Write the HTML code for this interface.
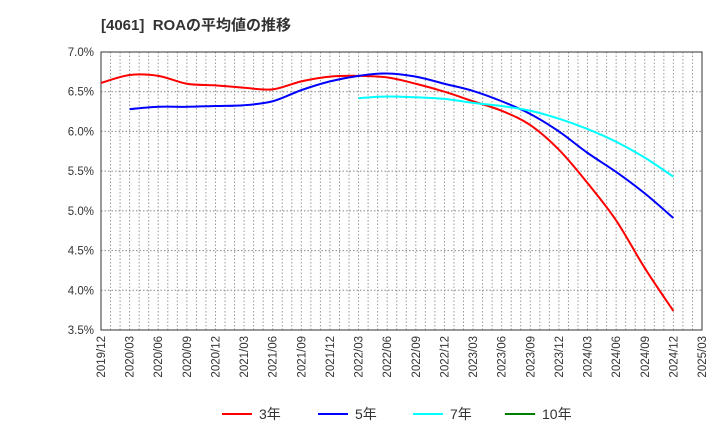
<!DOCTYPE html>
<html><head><meta charset="utf-8"><style>
body{margin:0;background:#fff;font-family:"Liberation Sans","Noto Sans CJK JP",sans-serif;}
svg text{font-family:"Liberation Sans","Noto Sans CJK JP",sans-serif;}
</style></head><body>
<svg id="chart" width="720" height="440" xmlns="http://www.w3.org/2000/svg">
<text x="101" y="30" font-size="15" font-weight="bold" fill="#333" xml:space="preserve">[4061]  ROAの平均値の推移</text>
<g id="grid"></g><g id="axes"></g><g id="series"></g><g id="legend"></g>
</svg>
<script>
const xLabels=["2019/12","2020/03","2020/06","2020/09","2020/12","2021/03","2021/06","2021/09","2021/12","2022/03","2022/06","2022/09","2022/12","2023/03","2023/06","2023/09","2023/12","2024/03","2024/06","2024/09","2024/12","2025/03"];
const yTicks=[3.5,4.0,4.5,5.0,5.5,6.0,6.5,7.0];
const s3=[6.61,6.71,6.70,6.60,6.58,6.55,6.53,6.63,6.69,6.70,6.68,6.60,6.50,6.38,6.26,6.08,5.77,5.35,4.88,4.28,3.74];
const s5=[null,6.28,6.31,6.31,6.32,6.33,6.38,6.52,6.63,6.70,6.73,6.69,6.60,6.51,6.38,6.22,6.00,5.73,5.49,5.22,4.91];
const s7=[null,null,null,null,null,null,null,null,null,6.42,6.44,6.43,6.41,6.36,6.32,6.26,6.16,6.03,5.87,5.67,5.43];
const s10=[];
const names=["3年","5年","7年","10年"];
const colors=["#ff0000","#0000ff","#00ffff","#008000"];
const L=101,R=702,T=52,B=330;
const NS="http://www.w3.org/2000/svg";
const xq=i=>L+i*(R-L)/21;
const y=v=>B-(v-3.5)/3.5*(B-T);
function mk(tag,attrs,parent){const e=document.createElementNS(NS,tag);for(const k in attrs)e.setAttribute(k,attrs[k]);parent.appendChild(e);return e;}
const grid=document.getElementById('grid'),axes=document.getElementById('axes'),ser=document.getElementById('series'),leg=document.getElementById('legend');
for(let m=1;m<63;m++){const x=L+m*(R-L)/63;const l=mk('line',{x1:x,x2:x,y1:T,y2:B,stroke:'#999','stroke-dasharray':'1.5,2','stroke-width':1},grid);

}
yTicks.forEach(v=>{const l=mk('line',{x1:L,x2:R,y1:y(v),y2:y(v),stroke:'#888','stroke-dasharray':'1.5,2','stroke-width':1},grid);


const t=mk('text',{x:L-7,y:y(v)+4,'text-anchor':'end','font-size':11.5,fill:'#333'},axes);t.textContent=v.toFixed(1)+'%';

});
const fr=mk('rect',{x:L,y:T,width:R-L,height:B-T,fill:'none',stroke:'#333','stroke-width':1},axes);


xLabels.forEach((s,i)=>{const x=xq(i);const t=mk('text',{transform:`translate(${x+4},${B+6}) rotate(-90)`,'text-anchor':'end','font-size':11.5,fill:'#333'},axes);t.textContent=s;

});
function path(arr){const p=[];arr.forEach((v,i)=>{if(v!=null)p.push([xq(i),y(v)]);});if(p.length<2)return '';
let d=`M${p[0][0]},${p[0][1]}`;for(let i=0;i<p.length-1;i++){const p0=p[i-1]||p[i],p1=p[i],p2=p[i+1],p3=p[i+2]||p2;
d+=` C${p1[0]+(p2[0]-p0[0])/6},${p1[1]+(p2[1]-p0[1])/6} ${p2[0]-(p3[0]-p1[0])/6},${p2[1]-(p3[1]-p1[1])/6} ${p2[0]},${p2[1]}`;}return d;}
[s3,s5,s7,s10].forEach((arr,k)=>{const d=path(arr);if(!d)return;const e=mk('path',{d,fill:'none',stroke:colors[k],'stroke-width':2},ser);

});
const lx=[222,318,413,505];
names.forEach((n,k)=>{const g=mk('g',{},leg);


mk('line',{x1:lx[k],x2:lx[k]+30,y1:414,y2:414,stroke:colors[k],'stroke-width':2},g);
const t=mk('text',{x:lx[k]+37,y:419,'font-size':14,fill:'#333'},g);t.textContent=n;});
</script>
</body></html>
